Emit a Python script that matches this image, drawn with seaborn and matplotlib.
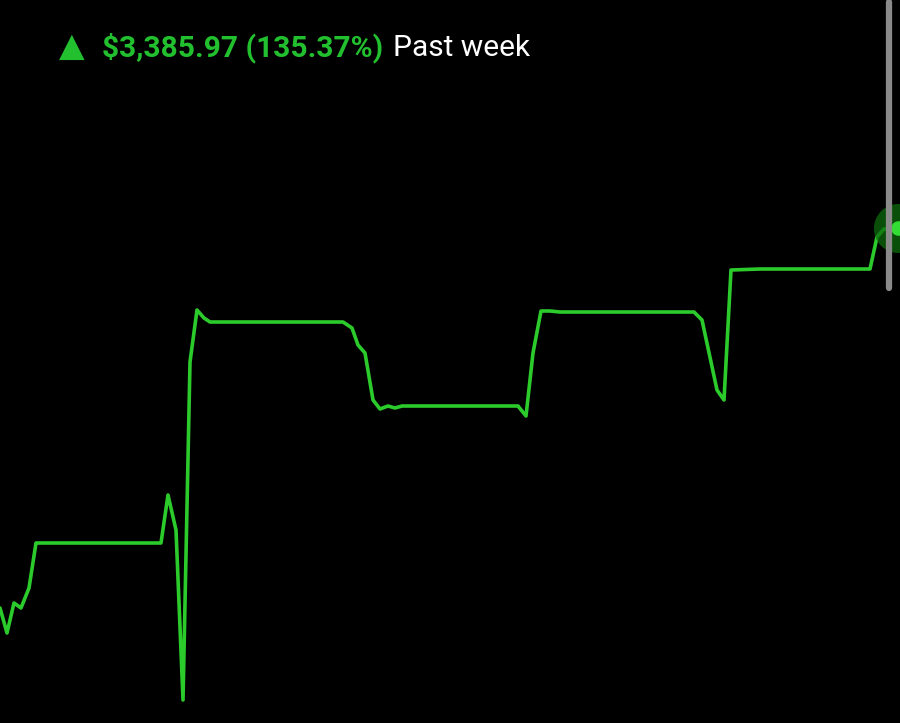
import matplotlib
matplotlib.use('Agg')
import matplotlib.pyplot as plt
import seaborn as sns
from matplotlib.lines import Line2D

# time steps over the past week and the portfolio line height
t = [0, 7, 14, 21, 29, 36, 161, 168, 176, 183, 190, 197, 204, 210, 343, 352, 358, 365,
     373, 380, 388, 395, 402, 518, 526, 533, 541, 550, 560, 694, 702, 717, 724, 731,
     760, 870, 877, 884, 893, 898]
price = [115, 90, 120, 115, 135, 180, 180, 228, 193, 23, 361, 413, 405, 401, 401, 395, 378, 370,
         323, 314, 317, 315, 317, 317, 307, 370, 412, 412, 411, 411, 403, 333, 323, 453,
         454, 454, 486, 494, 494, 495]

gain = "$3,385.97 (135.37%)"
period = "Past week"

green = '#2ccb2c'
text_green = '#22c02e'

sns.set_style('dark')
fig = plt.figure(figsize=(9, 7.23), dpi=100, facecolor='black')
ax = fig.add_axes([0, 0, 1, 1])
ax.set_facecolor('black')

sns.lineplot(x=t, y=price, sort=False, color=green, linewidth=2.6, ax=ax)

# last point marker with halo
ax.scatter([t[-1]], [price[-1]], s=1250, color='#0d6b0d', alpha=0.75, zorder=3, linewidths=0)
ax.scatter([t[-1]], [price[-1]], s=110, color='#33dd33', zorder=4, linewidths=0)

ax.set_xlim(0, 900)
ax.set_ylim(0, 723)
ax.axis('off')

# scroll bar
fig.add_artist(Line2D([889 / 900, 889 / 900], [1 - 2 / 723, 1 - 288 / 723], color='#8a8a8a',
                      linewidth=4.5, solid_capstyle='round', transform=fig.transFigure))

y_txt = 1 - 56 / 723
fig.text(59 / 900, y_txt, '▲', color=text_green, fontsize=24, family='DejaVu Sans', va='baseline')
fig.text(102 / 900, y_txt, gain, color=text_green, fontsize=21.5, fontweight='bold',
         family='Roboto', va='baseline')
fig.text(393 / 900, y_txt, period, color='white', fontsize=21.5, family='Roboto', va='baseline')

fig.savefig('out.png', dpi=100, facecolor='black')
